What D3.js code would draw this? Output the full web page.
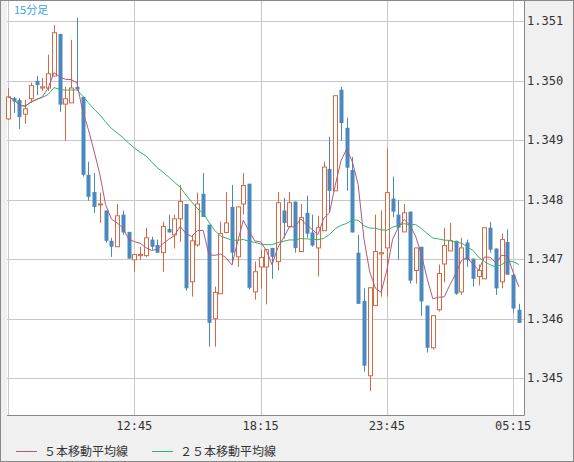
<!DOCTYPE html>
<html><head><meta charset="utf-8">
<script src="https://cdn.jsdelivr.net/npm/d3@7"></script>
<style>
body{margin:0;background:#fff}
svg{display:block}
</style></head>
<body>
<script>
// OHLC, 15 minute bars, first bar 07:15
const opens=[1.34936,1.34971,1.34968,1.34944,1.34970,1.35000,1.34988,1.34988,1.35008,1.35079,
1.34961,1.34963,1.34990,1.34973,1.34842,1.34813,1.34792,1.34782,1.34731,1.34721,
1.34775,1.34746,1.34699,1.34706,1.34706,1.34733,1.34724,1.34711,1.34751,1.34741,
1.34768,1.34793,1.34662,1.34724,1.34810,1.34758,1.34600,1.34642,1.34745,1.34788,
1.34704,1.34793,1.34827,1.34645,1.34687,1.34687,1.34719,1.34696,1.34782,1.34755,
1.34797,1.34713,1.34778,1.34745,1.34719,1.34748,1.34852,1.34815,1.34985,1.34921,
1.34850,1.34711,1.34630,1.34504,1.34622,1.34709,1.34719,1.34802,1.34775,1.34746,
1.34780,1.34681,1.34721,1.34622,1.34551,1.34615,1.34692,1.34714,1.34731,1.34645,
1.34728,1.34701,1.34671,1.34667,1.34753,1.34718,1.34662,1.34729,1.34674,1.34615];
const highs=[1.34988,1.34973,1.34971,1.34968,1.34997,1.35008,1.35005,1.35044,1.35094,1.35079,
1.34990,1.35069,1.35106,1.34973,1.34864,1.34845,1.34812,1.34782,1.34736,1.34793,
1.34782,1.34746,1.34708,1.34721,1.34753,1.34738,1.34733,1.34763,1.34775,1.34775,
1.34825,1.34793,1.34741,1.34812,1.34845,1.34758,1.34654,1.34763,1.34813,1.34825,
1.34788,1.34845,1.34827,1.34696,1.34716,1.34716,1.34719,1.34813,1.34803,1.34813,
1.34797,1.34793,1.34807,1.34775,1.34773,1.34864,1.34906,1.34975,1.34990,1.34938,
1.34872,1.34741,1.34651,1.34652,1.34775,1.34782,1.34886,1.34839,1.34800,1.34793,
1.34780,1.34719,1.34721,1.34622,1.34605,1.34691,1.34753,1.34761,1.34731,1.34736,
1.34733,1.34701,1.34691,1.34753,1.34763,1.34718,1.34743,1.34750,1.34674,1.34625];
const lows=[1.34934,1.34946,1.34919,1.34928,1.34963,1.34976,1.34983,1.34983,1.35008,1.34948,
1.34899,1.34963,1.34985,1.34839,1.34798,1.34778,1.34761,1.34728,1.34704,1.34721,
1.34741,1.34701,1.34679,1.34699,1.34704,1.34716,1.34711,1.34679,1.34745,1.34718,
1.34729,1.34647,1.34637,1.34721,1.34771,1.34553,1.34553,1.34642,1.34745,1.34691,
1.34687,1.34775,1.34649,1.34632,1.34651,1.34624,1.34667,1.34681,1.34735,1.34755,
1.34711,1.34713,1.34736,1.34721,1.34671,1.34748,1.34778,1.34815,1.34899,1.34815,
1.34745,1.34625,1.34511,1.34478,1.34622,1.34637,1.34637,1.34771,1.34699,1.34746,
1.34659,1.34659,1.34605,1.34543,1.34548,1.34612,1.34661,1.34714,1.34640,1.34640,
1.34687,1.34654,1.34656,1.34667,1.34711,1.34640,1.34651,1.34674,1.34610,1.34593];
const closes=[1.34973,1.34965,1.34939,1.34953,1.34992,1.34993,1.34990,1.35012,1.35081,1.34960,
1.34970,1.34988,1.34986,1.34842,1.34805,1.34788,1.34793,1.34731,1.34721,1.34773,
1.34745,1.34701,1.34708,1.34708,1.34736,1.34721,1.34711,1.34755,1.34745,1.34768,
1.34797,1.34651,1.34731,1.34793,1.34771,1.34593,1.34644,1.34743,1.34761,1.34711,
1.34788,1.34824,1.34652,1.34679,1.34703,1.34716,1.34704,1.34795,1.34761,1.34795,
1.34719,1.34770,1.34743,1.34723,1.34753,1.34855,1.34815,1.34975,1.34929,1.34854,
1.34745,1.34625,1.34521,1.34652,1.34713,1.34711,1.34812,1.34780,1.34753,1.34778,
1.34664,1.34719,1.34629,1.34551,1.34605,1.34676,1.34723,1.34731,1.34642,1.34719,
1.34699,1.34667,1.34681,1.34753,1.34716,1.34651,1.34733,1.34674,1.34617,1.34593];
const priceTicks=[1.345,1.346,1.347,1.348,1.349,1.350,1.351];
const timeTickIdx=[22,44,66,88];
const timeTickLabels=["12:45","18:15","23:45","05:15"];
const legendLabels=["５本移動平均線","２５本移動平均線"];

const W=574,H=462,L=7,R=524,T=0,B=415;
const upC="#d9673f",dnC="#4a89c0",ma5C="#b0587e",ma25C="#2fb36e";

const svg=d3.select("body").append("svg").attr("width",W).attr("height",H);
svg.append("rect").attr("width",W).attr("height",H).attr("fill","#f0f0f0");
svg.append("rect").attr("x",L).attr("y",T).attr("width",R-L).attr("height",B-T).attr("fill","#fff");

const x=d3.scaleLinear().domain([0,89]).range([8,518.9]);
const y=d3.scaleLinear().domain([1.34438,1.35136]).range([B,T]);

// grid
svg.append("g").selectAll("line").data(priceTicks).join("line")
  .attr("x1",L).attr("x2",R).attr("y1",d=>Math.round(y(d))+0.5).attr("y2",d=>Math.round(y(d))+0.5)
  .attr("stroke","#c8c8c8");
svg.append("g").selectAll("line").data([0].concat(timeTickIdx)).join("line")
  .attr("x1",d=>Math.round(x(d))+0.5).attr("x2",d=>Math.round(x(d))+0.5).attr("y1",T).attr("y2",B)
  .attr("stroke","#c8c8c8");

const data=opens.map((o,i)=>({i,o,h:highs[i],l:lows[i],c:closes[i]}));
const g=svg.append("g");
g.selectAll("line").data(data).join("line")
  .attr("x1",d=>Math.round(x(d.i))+0.5).attr("x2",d=>Math.round(x(d.i))+0.5)
  .attr("y1",d=>y(d.h)).attr("y2",d=>y(d.l))
  .attr("stroke",d=>d.c>=d.o?upC:dnC).attr("stroke-width",1);
g.selectAll("rect").data(data).join("rect")
  .attr("x",d=>Math.round(x(d.i))-1.5).attr("width",4)
  .attr("y",d=>y(Math.max(d.o,d.c))).attr("height",d=>Math.max(1,Math.abs(y(d.o)-y(d.c))))
  .attr("fill",d=>d.c>=d.o?"#fff":dnC)
  .attr("stroke",d=>d.c>=d.o?upC:"none");

function sma(n){return closes.map((c,i)=>d3.mean(closes.slice(Math.max(0,i-n+1),i+1)));}
const line=d3.line().x((d,i)=>x(i)).y(d=>y(d));
svg.append("path").attr("d",line(sma(25))).attr("fill","none").attr("stroke",ma25C);
svg.append("path").attr("d",line(sma(5))).attr("fill","none").attr("stroke",ma5C);

// frame
svg.append("line").attr("x1",L).attr("x2",R+0.5).attr("y1",B+0.5).attr("y2",B+0.5).attr("stroke","#888");
svg.append("line").attr("x1",R+0.5).attr("x2",R+0.5).attr("y1",0).attr("y2",B+0.5).attr("stroke","#888");
svg.append("rect").attr("x",0.5).attr("y",0.5).attr("width",W-1).attr("height",H-1).attr("fill","none").attr("stroke","#888");

svg.append("g").selectAll("text").data(priceTicks).join("text")
  .attr("x",527).attr("y",d=>y(d)+4).text(d=>d.toFixed(3))
  .attr("font-family","DejaVu Sans Mono").attr("font-size",12).attr("fill","#333");
svg.append("g").selectAll("text").data(timeTickIdx).join("text")
  .attr("x",d=>x(d)).attr("y",430).attr("text-anchor","middle").text((d,i)=>timeTickLabels[i])
  .attr("font-family","DejaVu Sans Mono").attr("font-size",12).attr("fill","#333");

svg.append("text").attr("x",14).attr("y",14).text("15分足")
  .attr("font-family","Noto Sans CJK JP").attr("font-size",11).attr("fill","#3aa5e8");

const lg=svg.append("g").selectAll("g").data(legendLabels).join("g")
  .attr("transform",(d,i)=>`translate(${i?152:16},451)`);
lg.append("line").attr("x1",0).attr("x2",21).attr("y1",0.5).attr("y2",0.5).attr("stroke",(d,i)=>i?ma25C:ma5C);
lg.append("text").attr("x",28).attr("y",5).text(d=>d)
  .attr("font-family","Noto Sans CJK JP").attr("font-size",12).attr("fill","#333");
</script>
</body></html>
